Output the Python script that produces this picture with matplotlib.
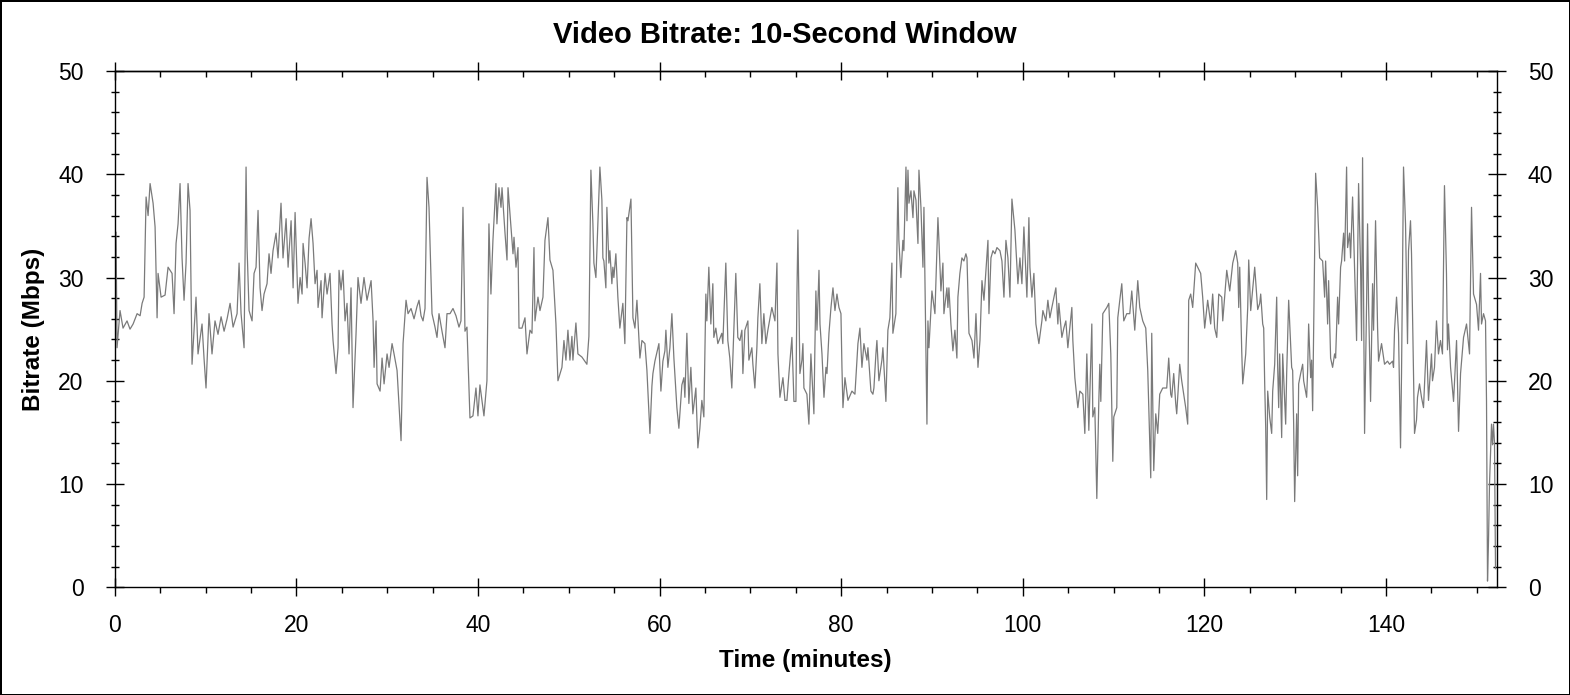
#!/usr/bin/env python
"""
Video bitrate over a 10-second window.
"""

import matplotlib

matplotlib.use("Agg")
import matplotlib.pyplot as plt
from matplotlib.ticker import MultipleLocator

# time (minutes) / bitrate (Mbps)
time_min = [
    0.03, 0.14, 0.25, 0.58, 0.91, 1.35, 1.68, 2.02, 2.46, 2.79, 3.01, 3.23,
    3.45, 3.67, 3.89, 4.22, 4.44, 4.66, 4.77, 5.10, 5.54, 5.87, 6.31, 6.53,
    6.75, 6.97, 7.19, 7.41, 7.63, 7.85, 8.07, 8.29, 8.51, 8.95, 9.17, 9.61,
    9.83, 10.05, 10.38, 10.71, 11.04, 11.37, 11.71, 12.04, 12.37, 12.70, 13.03,
    13.47, 13.69, 13.91, 14.24, 14.46, 14.57, 14.79, 15.12, 15.34, 15.56, 15.78,
    16.00, 16.22, 16.44, 16.77, 16.99, 17.21, 17.43, 17.76, 17.98, 18.31, 18.53,
    18.87, 19.09, 19.42, 19.64, 19.86, 20.18, 20.41, 20.63, 20.74, 20.96, 21.18,
    21.40, 21.62, 21.84, 22.06, 22.28, 22.39, 22.72, 22.83, 23.16, 23.38, 23.71,
    23.93, 24.04, 24.37, 24.59, 24.70, 24.92, 25.14, 25.36, 25.58, 25.80, 26.02,
    26.24, 26.57, 26.79, 27.12, 27.45, 27.78, 28.23, 28.45, 28.56, 28.78, 28.89,
    29.22, 29.44, 29.66, 29.99, 30.21, 30.54, 30.76, 31.09, 31.53, 31.75, 32.08,
    32.30, 32.63, 32.96, 33.29, 33.51, 33.73, 33.95, 34.17, 34.39, 34.61, 34.94,
    35.27, 35.49, 35.71, 36.04, 36.37, 36.59, 36.92, 37.25, 37.58, 37.91, 38.13,
    38.35, 38.57, 38.79, 39.12, 39.45, 39.78, 40.00, 40.22, 40.55, 40.66, 40.99,
    41.21, 41.43, 41.65, 41.98, 42.09, 42.31, 42.54, 42.65, 42.98, 43.20, 43.31,
    43.53, 43.86, 43.97, 44.19, 44.41, 44.52, 44.85, 45.18, 45.40, 45.73, 45.95,
    46.17, 46.28, 46.61, 46.83, 47.16, 47.38, 47.71, 47.93, 48.26, 48.59, 48.81,
    49.25, 49.47, 49.69, 49.91, 50.13, 50.35, 50.46, 50.79, 51.01, 51.45, 52.00,
    52.22, 52.44, 52.66, 52.77, 52.99, 53.10, 53.43, 53.65, 53.76, 53.87, 54.09,
    54.20, 54.42, 54.53, 54.75, 54.86, 54.97, 55.19, 55.41, 55.63, 55.96, 56.18,
    56.41, 56.52, 56.85, 57.07, 57.29, 57.51, 57.73, 57.84, 58.06, 58.39, 58.61,
    58.94, 59.16, 59.27, 59.49, 59.93, 60.15, 60.37, 60.59, 60.70, 60.92, 61.14,
    61.36, 61.58, 61.91, 62.13, 62.46, 62.68, 62.79, 63.01, 63.23, 63.45, 63.67,
    64.00, 64.22, 64.44, 64.66, 64.88, 65.10, 65.21, 65.43, 65.65, 65.87, 65.98,
    66.20, 66.42, 66.86, 66.97, 67.30, 67.52, 67.74, 67.96, 68.18, 68.40, 68.62,
    68.85, 69.07, 69.18, 69.40, 69.73, 69.84, 70.17, 70.28, 70.50, 70.72, 70.83,
    71.05, 71.27, 71.49, 71.71, 71.93, 72.37, 72.71, 72.93, 73.04, 73.26, 73.59,
    73.81, 74.03, 74.25, 74.58, 74.80, 75.02, 75.13, 75.24, 75.35, 75.46, 75.68,
    75.79, 75.90, 76.23, 76.45, 76.67, 76.78, 77.00, 77.11, 77.22, 77.34, 77.56,
    77.67, 77.89, 78.11, 78.33, 78.44, 78.66, 78.88, 79.10, 79.32, 79.54, 79.76,
    79.98, 80.09, 80.20, 80.42, 80.75, 81.19, 81.52, 81.85, 82.07, 82.29, 82.51,
    82.84, 82.95, 83.28, 83.50, 83.61, 83.83, 83.94, 84.16, 84.49, 84.60, 84.93,
    85.15, 85.37, 85.59, 85.70, 86.03, 86.25, 86.36, 86.58, 86.80, 86.91, 87.14,
    87.25, 87.36, 87.47, 87.69, 87.91, 88.02, 88.24, 88.46, 88.57, 88.79, 89.01,
    89.12, 89.45, 89.56, 89.67, 90.00, 90.33, 90.66, 90.77, 90.99, 91.21, 91.32,
    91.65, 91.76, 91.87, 92.09, 92.31, 92.53, 92.75, 92.86, 93.08, 93.30, 93.52,
    93.74, 93.86, 94.08, 94.41, 94.63, 94.85, 95.07, 95.29, 95.51, 95.73, 96.17,
    96.28, 96.50, 96.72, 96.94, 97.16, 97.49, 97.71, 97.93, 98.15, 98.37, 98.59,
    98.81, 99.14, 99.47, 99.69, 99.91, 100.13, 100.46, 100.68, 100.79, 101.01,
    101.23, 101.45, 101.78, 102.11, 102.22, 102.55, 102.77, 102.99, 103.21,
    103.65, 103.87, 103.98, 104.31, 104.53, 104.75, 104.97, 105.41, 105.52,
    105.74, 106.07, 106.29, 106.62, 106.84, 107.06, 107.28, 107.61, 107.72,
    107.94, 108.16, 108.38, 108.49, 108.60, 108.82, 109.26, 109.48, 109.70,
    109.92, 110.03, 110.36, 110.47, 110.69, 110.91, 111.13, 111.46, 111.79,
    112.01, 112.34, 112.67, 112.89, 113.22, 113.55, 113.77, 114.10, 114.21,
    114.43, 114.65, 114.87, 115.09, 115.42, 115.86, 116.08, 116.30, 116.41,
    116.63, 116.85, 116.96, 117.29, 117.51, 117.95, 118.17, 118.28, 118.50,
    118.72, 119.05, 119.27, 119.60, 119.82, 120.04, 120.37, 120.70, 120.92,
    121.14, 121.37, 121.59, 121.92, 122.03, 122.47, 122.80, 123.13, 123.46,
    123.68, 123.79, 123.90, 124.12, 124.23, 124.56, 124.78, 124.89, 125.11,
    125.55, 125.88, 126.10, 126.21, 126.43, 126.54, 126.65, 126.76, 126.87,
    126.98, 127.20, 127.42, 127.53, 127.75, 127.97, 128.08, 128.19, 128.30,
    128.52, 128.63, 128.96, 129.07, 129.29, 129.62, 129.73, 129.84, 129.95,
    130.17, 130.28, 130.39, 130.61, 130.83, 130.94, 131.27, 131.38, 131.49,
    131.71, 131.82, 131.93, 132.26, 132.48, 132.70, 133.03, 133.25, 133.36,
    133.58, 133.69, 133.91, 134.13, 134.35, 134.46, 134.68, 134.79, 135.01,
    135.12, 135.34, 135.45, 135.67, 135.78, 136.00, 136.11, 136.33, 136.55,
    136.77, 136.99, 137.21, 137.32, 137.43, 137.54, 137.65, 137.87, 137.98,
    138.09, 138.31, 138.53, 138.64, 138.86, 139.08, 139.19, 139.52, 139.85,
    140.18, 140.40, 140.73, 140.84, 140.95, 141.17, 141.39, 141.61, 141.72,
    141.94, 142.16, 142.38, 142.49, 142.71, 142.82, 143.15, 143.37, 143.48,
    143.70, 143.92, 144.14, 144.47, 144.69, 145.02, 145.13, 145.35, 145.57,
    145.79, 146.01, 146.23, 146.45, 146.67, 146.78, 146.89, 147.12, 147.45,
    147.78, 148.00, 148.22, 148.55, 148.88, 149.21, 149.43, 149.65, 149.98,
    150.20, 150.42, 150.53, 150.75, 150.97, 151.08, 151.19, 151.30, 151.41,
    151.63, 151.74, 151.85, 151.96, 152.07,
]

bitrate_mbps = [
    24.0, 34.4, 23.2, 26.8, 25.1, 25.8, 25.0, 25.5, 26.5, 26.3, 27.5, 28.1,
    37.8, 36.0, 39.1, 37.2, 34.9, 26.1, 30.4, 28.1, 28.3, 31.0, 30.4, 26.5,
    33.3, 35.2, 39.1, 31.9, 27.8, 31.4, 39.1, 36.5, 21.6, 28.1, 22.6, 25.5,
    22.2, 19.3, 26.5, 22.6, 25.8, 24.5, 26.2, 24.8, 26.0, 27.5, 25.2,
    26.5, 31.4, 26.5, 23.2, 40.7, 32.9, 26.8, 25.8, 30.4, 31.0, 36.5,
    29.0, 26.8, 28.4, 29.4, 32.3, 30.4, 32.6, 34.3, 31.9, 37.2, 31.9,
    35.7, 31.0, 35.5, 29.0, 36.3, 27.5, 30.0, 28.4, 33.3, 31.4, 29.0,
    33.8, 35.7, 33.3, 29.4, 30.7, 27.1, 29.7, 26.1, 30.4, 28.4, 30.4,
    25.5, 23.9, 20.7, 23.2, 30.7, 28.8, 30.7, 25.8, 27.5, 22.6, 29.0,
    17.4, 24.5, 30.0, 27.5, 30.0, 27.8, 29.7, 25.8, 21.3, 25.8, 19.7,
    19.0, 22.2, 19.7, 22.6, 21.3, 23.6, 22.6, 21.0, 14.2, 23.6, 27.8,
    26.5, 27.0, 26.0, 27.2, 27.8, 26.3, 25.8, 27.0, 39.7, 36.8, 26.5,
    25.2, 24.2, 26.5, 24.8, 23.2, 26.5, 26.5, 27.0, 26.3, 25.2, 25.8,
    36.8, 24.8, 25.2, 16.4, 16.6, 19.3, 16.6, 19.6, 17.4, 16.6, 20.0,
    35.2, 28.4, 33.6, 39.1, 35.2, 38.7, 36.8, 38.7, 34.3, 31.7, 38.7,
    36.1, 32.3, 33.9, 31.0, 32.9, 25.1, 25.1, 26.1, 22.6, 24.9, 24.6,
    32.9, 25.8, 28.1, 26.8, 28.1, 33.6, 35.8, 31.7, 30.7, 25.5, 20.0,
    21.3, 23.9, 22.0, 24.9, 22.0, 24.3, 22.0, 25.6, 22.6, 22.3, 21.6,
    24.3, 40.4, 35.2, 31.4, 30.0, 32.6, 40.7, 37.5, 31.9, 31.6, 29.0,
    36.8, 31.4, 32.6, 29.4, 31.0, 30.0, 32.3, 28.1, 25.1, 27.5, 23.6,
    35.8, 35.5, 37.6, 26.1, 25.1, 27.8, 24.2, 22.2, 23.9, 23.6, 21.0,
    14.9, 19.5, 20.7, 21.9, 23.6, 19.0, 21.9, 22.9, 24.9, 21.3, 23.2,
    26.5, 22.2, 17.4, 15.4, 19.6, 20.3, 18.4, 24.6, 17.8, 21.3, 16.8,
    19.3, 13.5, 15.4, 18.1, 16.5, 28.4, 25.8, 31.0, 25.5, 29.4, 24.2,
    25.1, 23.6, 24.6, 23.6, 31.4, 23.9, 22.2, 19.3, 24.9, 30.4, 24.2,
    23.9, 24.9, 20.7, 24.9, 25.8, 22.0, 23.2, 21.6, 19.3, 23.2, 26.1,
    29.4, 23.6, 26.5, 23.6, 24.9, 27.1, 25.8, 31.4, 22.6, 18.4, 20.3,
    18.1, 18.1, 20.7, 24.2, 18.0, 18.0, 28.4, 34.6, 28.0, 20.7, 22.0,
    23.6, 19.3, 18.7, 15.8, 22.6, 20.7, 16.8, 23.2, 28.7, 24.9, 30.7,
    25.5, 22.6, 18.4, 21.3, 20.7, 24.6, 27.1, 29.0, 26.8, 28.4, 27.1,
    26.5, 21.3, 17.4, 20.3, 18.1, 19.0, 18.7, 23.6, 25.1, 21.3, 23.6,
    22.0, 23.2, 19.0, 18.7, 19.3, 22.6, 23.9, 20.0, 22.0, 23.2, 18.0,
    24.9, 26.1, 31.4, 24.6, 26.5, 38.7, 33.6, 30.0, 33.6, 32.6, 40.7,
    35.5, 40.4, 37.2, 38.4, 35.8, 38.4, 37.5, 33.3, 40.4, 36.8, 31.0,
    36.8, 15.8, 25.8, 23.2, 28.7, 26.5, 35.8, 33.6, 28.7, 31.4, 26.5,
    29.0, 27.1, 29.0, 25.5, 22.9, 24.9, 22.2, 28.1, 30.4, 31.9, 31.6,
    32.3, 31.9, 24.6, 23.9, 22.2, 26.5, 21.3, 23.9, 29.7, 27.8, 33.6,
    26.5, 31.9, 32.6, 32.3, 32.9, 32.6, 31.6, 28.1, 33.6, 31.9, 28.1,
    37.6, 34.6, 29.4, 31.9, 29.4, 34.9, 28.1, 35.8, 31.0, 28.1,
    30.4, 25.5, 23.6, 25.8, 26.8, 25.8, 27.8, 26.1, 27.1,
    29.0, 25.5, 27.5, 24.2, 25.1, 25.8, 23.2, 27.1, 23.9,
    20.3, 17.4, 19.0, 18.7, 14.9, 22.6, 15.2, 25.5, 16.5,
    17.4, 8.6, 18.0, 21.6, 18.0, 26.5, 27.1, 27.5, 22.6,
    12.2, 16.5, 17.4, 26.1, 27.8, 29.4, 25.8, 26.5, 26.5,
    28.7, 24.9, 29.7, 27.1, 25.8, 25.1, 21.0, 10.6, 24.6,
    11.3, 16.8, 14.9, 18.7, 19.3, 19.3, 22.2, 18.7, 18.4,
    20.7, 17.8, 16.8, 21.6, 20.0, 17.4, 15.8, 27.8, 28.4,
    27.1, 31.4, 31.0, 30.4, 28.1, 25.1, 27.8, 25.5, 28.4,
    25.1, 24.2, 28.4, 28.1, 25.8, 30.7, 28.7, 31.4, 32.6,
    31.4, 27.1, 31.0, 22.9, 19.7, 22.6, 27.1, 31.7, 26.8,
    31.0, 26.9, 27.5, 28.4, 25.5, 25.1, 19.7, 15.5, 8.5,
    19.0, 16.5, 14.9, 19.0, 21.6, 28.1, 21.3, 17.4, 22.6,
    14.5, 22.6, 15.8, 20.7, 27.8, 21.3, 21.0, 15.8, 8.3,
    16.8, 10.8, 19.7, 20.7, 21.6, 20.0, 18.4, 21.0, 25.5,
    20.3, 22.0, 17.1, 40.1, 36.8, 31.9, 31.6, 28.1, 31.6,
    25.5, 29.7, 22.2, 21.3, 22.6, 22.2, 28.1, 25.5, 31.0,
    31.6, 34.3, 31.6, 40.7, 32.9, 34.3, 31.9, 37.8, 30.7,
    23.9, 39.1, 31.0, 23.9, 41.6, 27.5, 14.9, 27.5, 35.2,
    27.5, 18.0, 29.4, 24.9, 35.5, 25.2, 21.9, 23.6, 21.6,
    21.9, 21.6, 21.9, 21.3, 24.9, 28.1, 24.6, 13.5, 20.7,
    40.7, 35.2, 23.6, 32.6, 35.5, 32.3, 14.9, 16.2, 18.4,
    19.7, 18.4, 17.4, 23.9, 18.1, 22.6, 20.0, 21.3, 25.8,
    22.6, 23.9, 22.6, 38.9, 30.4, 23.0, 25.5, 21.3, 18.0,
    23.9, 15.1, 20.7, 24.2, 25.5, 22.6, 36.8, 28.4, 27.4,
    24.9, 30.4, 25.5, 26.5, 25.8, 18.0, 0.6, 4.5, 10.0,
    15.8, 13.8, 15.8, 14.0, 1.8,
]

x_max = 152.2
y_max = 50

FONT = "Liberation Sans"


def main():
    plt.rcParams["font.family"] = [FONT, "DejaVu Sans"]

    fig = plt.figure(figsize=(15.7, 6.95), dpi=100)
    fig.patch.set_edgecolor("black")
    fig.patch.set_linewidth(2)

    ax = fig.add_axes([0.0731, 0.1550, 0.8802, 0.7428])
    ax.plot(time_min, bitrate_mbps, color="#7a7a7a", linewidth=0.9)

    ax.set_xlim(0, x_max)
    ax.set_ylim(0, y_max)

    ax.xaxis.set_major_locator(MultipleLocator(20))
    ax.xaxis.set_minor_locator(MultipleLocator(5))
    ax.yaxis.set_major_locator(MultipleLocator(10))
    ax.yaxis.set_minor_locator(MultipleLocator(2))

    for spine in ax.spines.values():
        spine.set_linewidth(1.0)

    ax.tick_params(axis="x", which="major", direction="inout", length=13,
                   width=1.0, labelsize=16.5, pad=13, top=False)
    ax.tick_params(axis="x", which="minor", direction="out", length=4,
                   width=1.0, top=False)
    ax.tick_params(axis="y", which="major", direction="inout", length=13,
                   width=1.0, labelsize=16.5, pad=16,
                   left=True, right=True, labelleft=True, labelright=True)
    ax.tick_params(axis="y", which="minor", direction="inout", length=6,
                   width=1.0, left=True, right=True)

    # top axis: ticks only, pointing in
    top = ax.secondary_xaxis("top")
    top.xaxis.set_major_locator(MultipleLocator(20))
    top.xaxis.set_minor_locator(MultipleLocator(5))
    top.tick_params(which="major", direction="inout", length=13, width=1.0,
                    labeltop=False)
    top.tick_params(which="minor", direction="in", length=4, width=1.0)
    top.spines["top"].set_linewidth(1.0)

    fig.text(0.5, 1 - 43.3 / 695, "Video Bitrate: 10-Second Window",
             ha="center", va="baseline", fontsize=21, fontweight="bold")
    fig.text((114.7 + 1496.7) / 2 / 1570, 1 - 666.7 / 695, "Time (minutes)",
             ha="center", va="baseline", fontsize=17.5, fontweight="bold")
    fig.text(33.5 / 1570, 1 - 329 / 695, "Bitrate (Mbps)", rotation=90,
             ha="center", va="center", fontsize=17.5, fontweight="bold")

    fig.savefig("out.png", dpi=100)
    plt.close(fig)


if __name__ == "__main__":
    main()
